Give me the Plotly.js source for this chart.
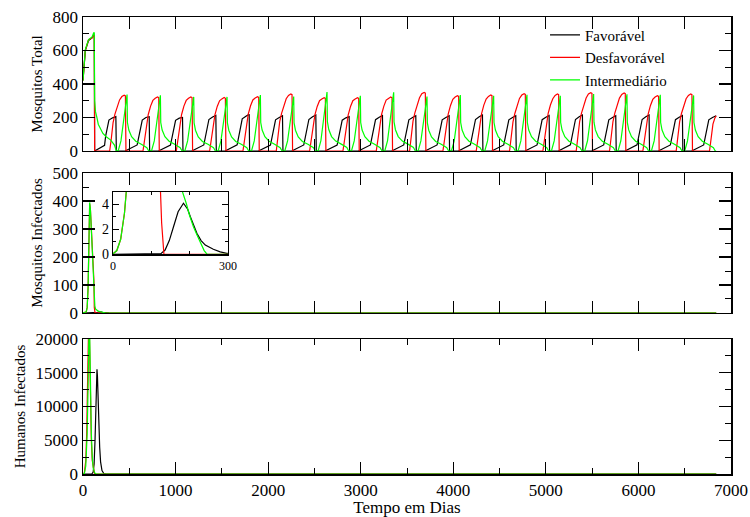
<!DOCTYPE html>
<html><head><meta charset="utf-8">
<script src="https://cdn.plot.ly/plotly-3.0.1.min.js"></script>
<style>html,body{margin:0;padding:0;background:#fff}</style>
</head><body><div id="chart" style="width:750px;height:517px"></div>
<script>
// ---------- Data ----------
const seriesNames = ['Favorável', 'Desfavorável', 'Intermediário'];

// Top panel: Mosquitos Total
const totalFavX = [0,25,60,97,118,122,126,233,245,265,280,320,355,360,
455,585,605,625,640,680,715,720,
815,945,965,985,1000,1040,1075,1080,
1175,1305,1325,1345,1360,1400,1435,1440,
1535,1665,1685,1705,1720,1760,1795,1800,
1895,2025,2045,2065,2080,2120,2155,2160,
2255,2385,2405,2425,2440,2480,2515,2520,
2615,2745,2765,2785,2800,2840,2875,2880,
2975,3105,3125,3145,3160,3200,3235,3240,
3335,3465,3485,3505,3520,3560,3595,3600,
3695,3825,3845,3865,3880,3920,3955,3960,
4055,4185,4205,4225,4240,4280,4315,4320,
4415,4545,4565,4585,4600,4640,4675,4680,
4775,4905,4925,4945,4960,5000,5035,5040,
5135,5265,5285,5305,5320,5360,5395,5400,
5495,5625,5645,5665,5680,5720,5755,5760,
5855,5985,6005,6025,6040,6080,6115,6120,
6215,6345,6365,6385,6400,6440,6475,6480,
6575,6705,6725,6745,6760,6800,6835,6840];
const totalFavY = [424,600,660,675,690,690,0,34,90,160,185,198,205,0,
0,36,90,160,185,200,205,0,
0,35,88,158,183,196,200,0,
0,36,92,162,188,203,212,0,
0,37,95,165,192,208,220,0,
0,35,90,160,186,200,210,0,
0,36,92,162,188,204,215,0,
0,35,88,158,184,198,205,0,
0,36,91,161,187,202,212,0,
0,36,90,160,186,200,210,0,
0,36,90,160,186,200,210,0,
0,37,92,162,188,204,215,0,
0,36,90,160,186,200,210,0,
0,36,91,161,187,202,212,0,
0,37,92,162,188,204,215,0,
0,36,90,160,186,200,210,0,
0,37,92,162,188,204,215,0,
0,36,91,161,187,202,212,0,
0,36,90,160,186,200,208,210];

const totalDesX = [0,25,60,97,118,122,126,
288,305,325,345,370,395,420,445,458,464,
648,665,685,705,730,755,780,805,818,824,
1008,1025,1045,1065,1090,1115,1140,1165,1178,1184,
1368,1385,1405,1425,1450,1475,1500,1525,1538,1544,
1728,1745,1765,1785,1810,1835,1860,1885,1898,1904,
2088,2105,2125,2145,2170,2195,2220,2245,2258,2264,
2448,2465,2485,2505,2530,2555,2580,2605,2618,2624,
2808,2825,2845,2865,2890,2915,2940,2965,2978,2984,
3168,3185,3205,3225,3250,3275,3300,3325,3338,3344,
3528,3545,3565,3585,3610,3635,3660,3685,3698,3704,
3888,3905,3925,3945,3970,3995,4020,4045,4058,4064,
4248,4265,4285,4305,4330,4355,4380,4405,4418,4424,
4608,4625,4645,4665,4690,4715,4740,4765,4778,4784,
4968,4985,5005,5025,5050,5075,5100,5125,5138,5144,
5328,5345,5365,5385,5410,5435,5460,5485,5498,5504,
5688,5705,5725,5745,5770,5795,5820,5845,5858,5864,
6048,6065,6085,6105,6130,6155,6180,6205,6218,6224,
6408,6425,6445,6465,6490,6515,6540,6565,6578,6584,
6768,6785,6805,6825,6840];
const totalDesY = [420,600,665,675,690,685,0,
0,70,170,220,270,305,325,333,329,0,
0,70,168,218,268,302,315,323,319,0,
0,70,168,218,268,302,315,323,319,0,
0,68,166,216,266,300,311,319,315,0,
0,70,170,220,270,305,316,324,320,0,
0,72,175,225,275,312,332,340,336,0,
0,68,166,216,266,300,310,318,314,0,
0,68,166,216,266,300,310,318,314,0,
0,70,168,218,268,304,314,322,318,0,
0,74,178,228,280,318,342,350,346,0,
0,70,170,220,272,308,322,330,326,0,
0,72,172,222,274,310,326,334,330,0,
0,72,174,224,276,314,334,342,338,0,
0,72,174,224,276,312,332,340,336,0,
0,74,176,226,278,316,340,348,344,0,
0,74,176,226,278,316,338,346,342,0,
0,70,170,220,272,308,322,330,326,0,
0,72,174,224,276,312,332,340,336,0,
0,70,160,195,210];

const totalIntX = [0,25,60,97,115,122,126,135,150,165,215,251,300,340,360,
380,410,435,460,472,476,480,495,525,570,630,690,710,
740,770,795,820,832,836,840,855,885,930,990,1050,1070,
1100,1130,1155,1180,1192,1196,1200,1215,1245,1290,1350,1410,1430,
1460,1490,1515,1540,1552,1556,1560,1575,1605,1650,1710,1770,1790,
1820,1850,1875,1900,1912,1916,1920,1935,1965,2010,2070,2130,2150,
2180,2210,2235,2260,2272,2276,2280,2295,2325,2370,2430,2490,2510,
2540,2570,2595,2620,2632,2636,2640,2655,2685,2730,2790,2850,2870,
2900,2930,2955,2980,2992,2996,3000,3015,3045,3090,3150,3210,3230,
3260,3290,3315,3340,3352,3356,3360,3375,3405,3450,3510,3570,3590,
3620,3650,3675,3700,3712,3716,3720,3735,3765,3810,3870,3930,3950,
3980,4010,4035,4060,4072,4076,4080,4095,4125,4170,4230,4290,4310,
4340,4370,4395,4420,4432,4436,4440,4455,4485,4530,4590,4650,4670,
4700,4730,4755,4780,4792,4796,4800,4815,4845,4890,4950,5010,5030,
5060,5090,5115,5140,5152,5156,5160,5175,5205,5250,5310,5370,5390,
5420,5450,5475,5500,5512,5516,5520,5535,5565,5610,5670,5730,5750,
5780,5810,5835,5860,5872,5876,5880,5895,5925,5970,6030,6090,6110,
6140,6170,6195,6220,6232,6236,6240,6255,6285,6330,6390,6450,6470,
6500,6530,6555,6580,6592,6596,6600,6615,6645,6690,6750,6810,6830,
6840];
const totalIntY = [420,605,665,680,705,708,300,235,200,160,105,85,65,35,0,
0,60,170,280,305,337,170,125,85,58,40,20,0,
0,60,170,280,305,333,170,125,85,58,40,20,0,
0,60,168,278,303,323,168,124,84,57,40,20,0,
0,60,168,278,303,323,168,124,84,57,40,20,0,
0,60,170,280,305,334,170,125,85,58,40,20,0,
0,60,168,278,303,325,168,124,84,57,40,20,0,
0,62,174,285,312,352,175,128,86,59,41,21,0,
0,60,170,280,305,330,170,125,85,58,40,20,0,
0,62,174,285,310,350,174,127,86,59,41,21,0,
0,60,168,278,303,325,168,124,84,57,40,20,0,
0,60,170,280,305,334,170,125,85,58,40,20,0,
0,60,170,280,305,330,170,125,85,58,40,20,0,
0,60,170,280,306,335,170,125,85,58,40,20,0,
0,60,170,280,305,330,170,125,85,58,40,20,0,
0,61,172,282,308,340,172,126,86,58,40,20,0,
0,61,172,282,307,338,171,126,85,58,40,20,0,
0,60,170,280,306,335,170,125,85,58,40,20,0,
0,60,170,280,305,332,170,125,85,58,40,20,0,
0];

// Middle panel: Mosquitos Infectados (also used by the inset)
const infFavX = [0,110,119,125,136,147,158,170,184,195,202,210,219,230,241,262,280,297,320,6840];
const infFavY = [0,0,0,0.05,0.34,1.1,2.2,3.4,4.08,3.6,3.0,2.3,1.68,1.1,0.74,0.4,0.2,0.08,0,0];
const infDesX = [0,10,20,30,36,45,55,65,72,80,90,100,110,118,122,124,127,130,133,6840];
const infDesY = [0.05,0.3,1.2,3.3,5.5,20,90,260,390,370,300,230,160,115,20,5,2.5,0.8,0,0];
const infIntX = [0,10,20,30,36,45,55,65,72,80,90,100,110,119,128,136,150,165,180,191,200,210,220,228,238,246,6840];
const infIntY = [0.05,0.3,1.2,3.3,5.5,20,90,260,395,370,290,208,110,54,25,14,9,6.5,5.2,4.1,3.1,2.2,1.5,1.0,0.3,0,0];

// Bottom panel: Humanos Infectados
const humFavX = [0,95,110,120,130,140,147,151,156,163,170,180,190,205,225,250,6840];
const humFavY = [0,0,300,1500,5000,10500,14000,15500,14500,11000,7500,4000,1800,500,80,0,0];
const humDesX = [0,15,30,40,50,57,62,70,80,90,100,115,125,6840];
const humDesY = [0,200,2000,6000,14000,20500,23000,20000,11000,5000,2000,500,0,0];
const humIntX = [0,15,30,45,55,63,68,73,80,90,100,110,125,140,6840];
const humIntY = [0,100,1200,6000,13000,20000,24000,20000,13000,6000,2500,900,200,0,0];

// Tick labels
const xTickVals = [0,1000,2000,3000,4000,5000,6000,7000];
const xTickLabels = ['0','1000','2000','3000','4000','5000','6000','7000'];

// ---------- Chart ----------
const colors = ['#000000', '#ff0000', '#00ff00'];
const lw = 1.2;
function tr(x, y, i, xa, ya, leg) {
  return {x: x, y: y, xaxis: xa, yaxis: ya, type: 'scatter', mode: 'lines',
    name: seriesNames[i], showlegend: leg, hoverinfo: 'skip',
    line: {color: colors[i], width: lw}};
}
const data = [
  tr(totalFavX, totalFavY, 0, 'x', 'y', true),
  tr(totalDesX, totalDesY, 1, 'x', 'y', true),
  tr(totalIntX, totalIntY, 2, 'x', 'y', true),
  tr(infFavX, infFavY, 0, 'x', 'y2', false),
  tr(infDesX, infDesY, 1, 'x', 'y2', false),
  tr(infIntX, infIntY, 2, 'x', 'y2', false),
  tr(humFavX, humFavY, 0, 'x', 'y3', false),
  tr(humDesX, humDesY, 1, 'x', 'y3', false),
  tr(humIntX, humIntY, 2, 'x', 'y3', false),
  tr(infFavX, infFavY, 0, 'x4', 'y4', false),
  tr(infDesX, infDesY, 1, 'x4', 'y4', false),
  tr(infIntX, infIntY, 2, 'x4', 'y4', false)
];

const fontFam = 'Liberation Serif';
function tf(size) { return {family: fontFam, size: size, color: '#000000'}; }
function yax(domain, range, dtick, minor, title) {
  return {domain: domain, anchor: 'x', range: range, dtick: dtick, tick0: 0,
    tickformat: 'd', separatethousands: false, exponentformat: 'none',
    color: '#000000',
    ticks: 'inside', ticklen: 12, tickwidth: 1.2, tickcolor: '#000',
    minor: {dtick: minor, tick0: 0, ticks: 'inside', ticklen: 6, tickwidth: 1, tickcolor: '#000'},
    showline: true, linecolor: '#000', linewidth: 1.5, mirror: 'allticks',
    showgrid: false, zeroline: false, tickfont: tf(17),
    title: {text: title, font: tf(15), standoff: 6}};
}
const layout = {
  width: 750, height: 517,
  margin: {l: 83, r: 19, t: 17, b: 43, pad: 0},
  paper_bgcolor: '#fff', plot_bgcolor: '#fff',
  font: tf(16),
  showlegend: true,
  legend: {x: 0.713, y: 0.9965, xanchor: 'left', yanchor: 'top', bgcolor: 'rgba(0,0,0,0)',
    font: tf(15), tracegroupgap: 0},
  xaxis: {domain: [0, 1], anchor: 'y3', range: [0, 7000], color: '#000000',
    tickvals: xTickVals, ticktext: xTickLabels,
    ticks: 'inside', ticklen: 12, tickwidth: 1.2, tickcolor: '#000',
    minor: {dtick: 500, tick0: 0, ticks: 'inside', ticklen: 6, tickwidth: 1, tickcolor: '#000'},
    showline: true, linecolor: '#000', linewidth: 1.5, mirror: 'allticks',
    showgrid: false, zeroline: false, tickfont: tf(17),
    title: {text: 'Tempo em Dias', font: tf(17), standoff: 2}},
  yaxis: yax([0.7068, 1], [0, 800], 200, 100, 'Mosquitos Total'),
  yaxis2: yax([0.3523, 0.6586], [0, 500], 100, 50, 'Mosquitos Infectados'),
  yaxis3: yax([0, 0.2954], [0, 20000], 5000, 2500, 'Humanos Infectados'),
  xaxis4: {domain: [0.0463, 0.2236], anchor: 'y4', range: [0, 300], dtick: 300, tick0: 0,
    color: '#000000',
    ticks: 'inside', ticklen: 6, tickwidth: 1, tickcolor: '#000',
    minor: {dtick: 100, ticks: 'inside', ticklen: 3, tickcolor: '#000'},
    showline: true, linecolor: '#000', linewidth: 1.2, mirror: 'allticks',
    showgrid: false, zeroline: false, tickfont: tf(12)},
  yaxis4: {domain: [0.4807, 0.6177], anchor: 'x4', range: [0, 5], dtick: 2, tick0: 0,
    color: '#000000',
    ticks: 'inside', ticklen: 6, tickwidth: 1, tickcolor: '#000',
    minor: {dtick: 1, ticks: 'inside', ticklen: 3, tickcolor: '#000'},
    showline: true, linecolor: '#000', linewidth: 1.2, mirror: 'allticks',
    showgrid: false, zeroline: false, tickfont: tf(14)}
};
Plotly.newPlot('chart', data, layout, {staticPlot: true, displayModeBar: false});
</script></body></html>
